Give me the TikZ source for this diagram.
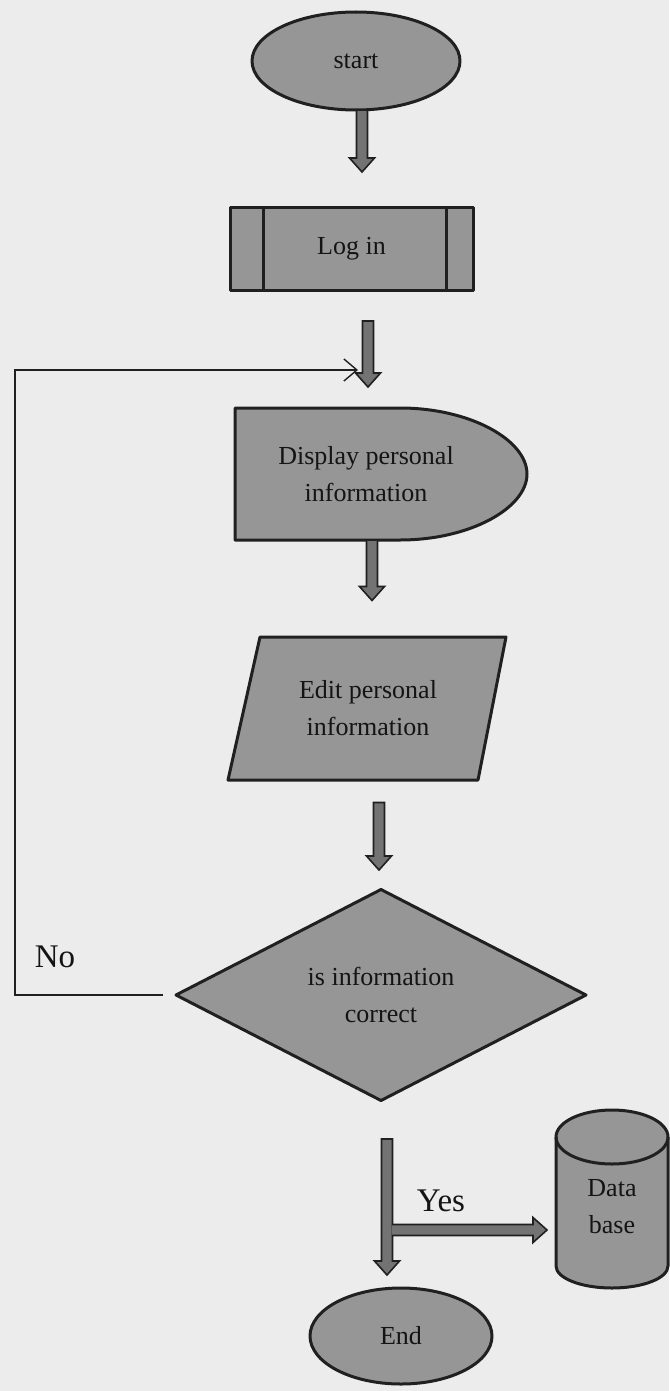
\documentclass[tikz,border=0pt]{standalone}
\usepackage{fontspec}
\setmainfont{Liberation Serif}
\usetikzlibrary{shapes.geometric,arrows.meta,calc}

\definecolor{paper}{RGB}{236,236,236}
\definecolor{boxfill}{RGB}{150,150,150}
\definecolor{boxline}{RGB}{32,32,32}
\definecolor{arrowfill}{RGB}{115,115,115}
\definecolor{ink}{RGB}{20,20,20}

% half widths and head length of the block arrows
\def\shaftw{5.5pt}
\def\headw{12.5pt}
\def\headl{14pt}

\tikzset{
  x=1pt, y=-1pt,
  shapestyle/.style={draw=boxline, fill=boxfill, line width=3pt, line join=round},
  txt/.style={text=ink, font=\fontsize{26}{37}\selectfont, align=center,
    inner sep=0pt, outer sep=0pt},
  bigtxt/.style={txt, font=\fontsize{33}{40}\selectfont},
  terminal/.style={shapestyle, txt, ellipse},
  divider/.style={draw=boxline, line width=3pt},
  fatarrow/.style={draw=boxline, fill=arrowfill, line width=1.6pt, line join=miter},
  % vertical block arrow: #1 x offset, #2 gap at start, #3 gap at target
  fatdown/.style n args={3}{fatarrow, to path={
    let \p1=([xshift=#1]\tikztostart.south), \p2=(\tikztotarget.north) in
    (\x1-\shaftw,\y1-#2) -- (\x1-\shaftw,\y2+#3+\headl) -- (\x1-\headw,\y2+#3+\headl)
    -- (\x1,\y2+#3) -- (\x1+\headw,\y2+#3+\headl) -- (\x1+\shaftw,\y2+#3+\headl)
    -- (\x1+\shaftw,\y1-#2) -- cycle}},
  % horizontal block arrow branching off a shaft: #1 gap at target
  fatright/.style={fatarrow, to path={
    let \p1=(\tikztostart), \p2=(\tikztotarget.west) in
    (\x1,\y1+\shaftw) -- (\x2-#1-\headl,\y1+\shaftw) -- (\x2-#1-\headl,\y1+\headw)
    -- (\x2-#1,\y1) -- (\x2-#1-\headl,\y1-\headw) -- (\x2-#1-\headl,\y1-\shaftw)
    -- (\x1,\y1-\shaftw)}},
  loopline/.style={draw=boxline, line width=1.4pt, line join=miter,
    -{Straight Barb[length=13pt,width=22pt,line width=1.4pt]}},
}

\begin{document}
\begin{tikzpicture}
\useasboundingbox[fill=paper] (0,0) rectangle (669,1391);

% start terminal
\node[terminal, minimum width=208pt, minimum height=98pt] (start) at (356,61) {start};

% predefined process box
\node[shapestyle, txt, rectangle, minimum width=243pt, minimum height=83pt] (login) at (351.5,248.5) {Log in};
\draw[divider] ([xshift=33pt]login.north west) -- ([xshift=33pt]login.south west);
\draw[divider] ([xshift=-27pt]login.north east) -- ([xshift=-27pt]login.south east);

% display shape
\path[shapestyle] (235,408) -- (400,408) .. controls (470,408) and (527,440) .. (527,474)
  .. controls (527,508) and (470,540) .. (400,540) -- (235,540) -- cycle;
\node[txt, minimum height=132pt] (disp) at (366,474) {Display personal\\information};

% input parallelogram
\path[shapestyle] (260,637) -- (506,637) -- (478,780) -- (228,780) -- cycle;
\node[txt, minimum height=143pt] (edit) at (368,708.5) {Edit personal\\information};

% decision
\node[shapestyle, txt, diamond, aspect=1.9, minimum width=410pt, minimum height=211pt] (dec) at (381,995) {is information\\correct};

% database cylinder
\path[shapestyle] (556,1137) -- (556,1266) arc[start angle=180, end angle=0, x radius=56, y radius=22]
  -- (668,1137) arc[start angle=0, end angle=-180, x radius=56, y radius=27] -- cycle;
\draw[divider] (556,1137) arc[start angle=180, end angle=0, x radius=56, y radius=27];
\node[txt, minimum width=112pt] (db) at (612,1207) {Data\\base};

% end terminal
\node[terminal, minimum width=182pt, minimum height=96pt] (end) at (401,1336) {End};

% labels
\node[bigtxt] (no) at (55,957) {No};
\node[bigtxt] (yes) at (441,1201) {Yes};

% main flow
\draw[fatdown={6pt}{0pt}{35pt}] (start) to (login);
\draw[fatdown={16.5pt}{31pt}{21pt}] (login) to (disp);
\draw[fatdown={6pt}{0pt}{36.5pt}] (disp) to (edit);
\draw[fatdown={11pt}{22.5pt}{19.5pt}] (edit) to (dec);
\draw[fatdown={6pt}{38.5pt}{13pt}] (dec) to (end);

% yes branch to the database
\coordinate (split) at ([xshift=10.75pt,yshift=-129.5pt]dec.south);
\draw[fatright=9pt] (split) to (db);

% no branch back to the display step
\coordinate (loopend) at ([xshift=6.5pt,yshift=-80pt]login.south);
\coordinate (loopcorner) at (15,370);
\draw[loopline] ([xshift=-13pt]dec.west) -| (loopcorner) -- (loopend);
\end{tikzpicture}
\end{document}
